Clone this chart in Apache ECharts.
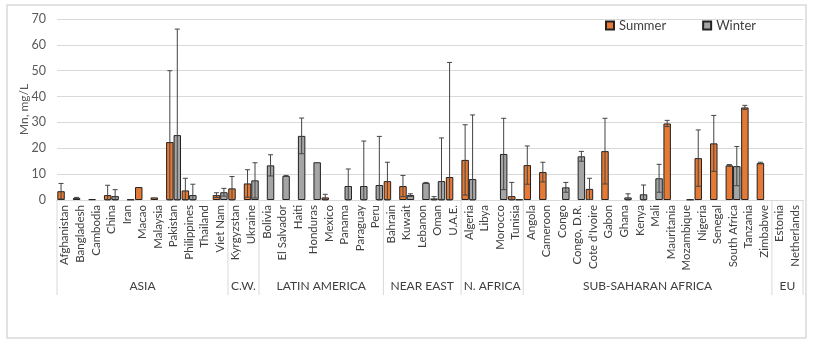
<!DOCTYPE html>
<html>
<head>
<meta charset="utf-8">
<script src="https://cdn.jsdelivr.net/npm/echarts@6/dist/echarts.min.js"></script>
<style>
  html, body { margin: 0; padding: 0; background: #fff; }
  #chart { width: 816px; height: 344px; }
</style>
</head>
<body>
<div id="chart"></div>
<script>
const countries = [
  'Afghanistan', 'Bangladesh', 'Cambodia', 'China', 'Iran', 'Macao', 'Malaysia', 'Pakistan', 'Philippines', 'Thailand', 'Viet Nam',
  'Kyrgyzstan', 'Ukraine',
  'Bolivia', 'El Salvador', 'Haiti', 'Honduras', 'Mexico', 'Panama', 'Paraguay', 'Peru',
  'Bahrain', 'Kuwait', 'Lebanon', 'Oman', 'U.A.E.',
  'Algeria', 'Libya', 'Morocco', 'Tunisia',
  'Angola', 'Cameroon', 'Congo', 'Congo, D.R.', "Cote d'Ivoire", 'Gabon', 'Ghana', 'Kenya', 'Mali', 'Mauritania', 'Mozambique', 'Nigeria', 'Senegal', 'South Africa', 'Tanzania', 'Zimbabwe',
  'Estonia', 'Netherlands'
]

// region groups: [first index, end index (exclusive), label]
const groups = [
  [0, 11, 'ASIA'],
  [11, 13, 'C.W.'],
  [13, 21, 'LATIN AMERICA'],
  [21, 26, 'NEAR EAST'],
  [26, 30, 'N. AFRICA'],
  [30, 46, 'SUB-SAHARAN AFRICA'],
  [46, 48, 'EU']
]

const summer = [
  3.4, 0.8, 0.3, 1.9, null, 5.0, 1.0, 22.4, 3.7, null, 1.9,
  4.5, 6.4,
  null, null, null, null, 1.0, null, null, null,
  7.3, 5.4, null, 0.6, 8.9,
  15.5, null, null, 1.5,
  13.5, 10.8, null, null, 4.3, 18.9, null, null, null, 29.6, null, 16.2, 21.9, 13.4, 35.8, 14.3,
  null, null
]
const summerSd = [
  3.0, 0.2, 0, 3.8, 0, 0, 0, 27.6, 4.7, 0, 0.9,
  4.6, 5.3,
  0, 0, 0, 0, 1.2, 0, 0, 0,
  7.3, 4.1, 0, 0.7, 44.3,
  13.6, 0, 0, 5.3,
  7.4, 3.8, 0, 0, 4.1, 12.7, 0, 0, 0, 1.2, 0, 10.9, 10.8, 0.3, 0.8, 0.3,
  0, 0
]

const winter = [
  null, null, null, 1.5, 0.2, null, null, 25.1, 1.9, null, 3.0,
  null, 7.6,
  13.4, 9.3, 24.8, 14.6, null, 5.4, 5.4, 5.8,
  null, 1.9, 6.6, 7.3, null,
  8.1, null, 17.8, 0.2,
  null, null, 4.9, 16.9, null, null, 1.0, 2.2, 8.4, null, 0.2, null, null, 13.1, null, null,
  null, null
]
const winterSd = [
  0, 0, 0, 2.5, 0, 0, 0, 41.0, 4.2, 0, 1.5,
  0, 6.8,
  4.1, 0.2, 6.9, 0, 0, 6.6, 17.4, 18.8,
  0, 0.5, 0.2, 16.7, 0,
  24.8, 0, 13.8, 0,
  0, 0, 1.9, 1.9, 0, 0, 1.4, 3.6, 5.4, 0, 0, 0, 0, 7.6, 0, 0,
  0, 0
]

const yTicks = [0, 10, 20, 30, 40, 50, 60, 70]

const FONT = 'Lato, "Liberation Sans", sans-serif'
const CAT_GAP = 0.04

function errData(vals, sds) {
  const out = []
  vals.forEach((v, i) => {
    if (v != null && sds[i] > 0) out.push([i, v, sds[i]])
  })
  return out
}

function errRender(side) {
  return function(params, api) {
    const i = api.value(0)
    const v = api.value(1)
    const sd = api.value(2)
    const band = api.size([1, 0])[0]
    const bw = band * (1 - CAT_GAP) / 2
    const cx = api.coord([i, 0])[0] + side * bw / 2
    const yTop = api.coord([i, v + sd])[1]
    const yBot = api.coord([i, Math.max(0, v - sd)])[1]
    const cap = 2.5
    const st = { stroke: '#444', lineWidth: 1 }
    return {
      type: 'group',
      children: [
        { type: 'line', shape: { x1: cx, y1: yTop, x2: cx, y2: yBot }, style: st },
        { type: 'line', shape: { x1: cx - cap, y1: yTop, x2: cx + cap, y2: yTop }, style: st },
        { type: 'line', shape: { x1: cx - cap, y1: yBot, x2: cx + cap, y2: yBot }, style: st }
      ]
    }
  }
}

const chart = echarts.init(document.getElementById('chart'))

const option = {
  backgroundColor: '#fff',
  animation: false,
  textStyle: { fontFamily: FONT },
  graphic: [
    {
      type: 'rect',
      shape: { x: 7, y: 5, width: 799, height: 333 },
      style: { fill: 'none', stroke: '#D9D9D9', lineWidth: 1.5 },
      z: -1
    }
  ],
  legend: {
    data: ['Summer', 'Winter'],
    left: 600,
    top: 14,
    itemWidth: 8,
    itemHeight: 8,
    itemGap: 36,
    icon: 'rect',
    textStyle: { fontSize: 13, color: '#404040', fontFamily: FONT }
  },
  grid: { left: 57, right: 13, top: 19, bottom: 144 },
  xAxis: [
    {
      type: 'category',
      data: countries,
      axisTick: { show: false },
      axisLine: { lineStyle: { color: '#D9D9D9', width: 1 } },
      axisLabel: { interval: 0, rotate: 90, fontSize: 11.5, color: '#404040', margin: 5, fontFamily: FONT }
    },
    {
      type: 'value',
      min: 0,
      max: countries.length,
      show: false
    }
  ],
  yAxis: {
    type: 'value',
    min: yTicks[0],
    max: yTicks[yTicks.length - 1],
    interval: 10,
    name: 'Mn, mg/L',
    nameLocation: 'middle',
    nameGap: 27,
    nameMoveOverlap: false,
    nameTextStyle: { fontSize: 12, color: '#595959', fontFamily: FONT },
    axisLine: { show: false },
    axisTick: { show: false },
    axisLabel: { fontSize: 12.5, color: '#595959', margin: 11, fontFamily: FONT },
    splitLine: { lineStyle: { color: '#D9D9D9', width: 1 } }
  },
  series: [
    {
      name: 'Summer',
      type: 'bar',
      data: summer,
      barGap: '0%',
      barCategoryGap: (CAT_GAP * 100) + '%',
      itemStyle: { color: '#E47A35', borderColor: '#222', borderWidth: 1 }
    },
    {
      name: 'Winter',
      type: 'bar',
      data: winter,
      itemStyle: { color: '#A5A5A5', borderColor: '#222', borderWidth: 1 }
    },
    {
      name: 'errS',
      type: 'custom',
      renderItem: errRender(-1),
      data: errData(summer, summerSd),
      encode: { x: 0, y: 1 },
      z: 5,
      silent: true
    },
    {
      name: 'errW',
      type: 'custom',
      renderItem: errRender(1),
      data: errData(winter, winterSd),
      encode: { x: 0, y: 1 },
      z: 5,
      silent: true
    },
    {
      name: 'groups',
      type: 'custom',
      xAxisIndex: 1,
      clip: false,
      silent: true,
      data: groups.map((g, k) => [g[0], g[1], k]),
      encode: { x: [0, 1] },
      renderItem: function(params, api) {
        const k = api.value(2)
        const g = groups[k]
        const x0 = api.coord([g[0], 0])[0]
        const x1 = api.coord([g[1], 0])[0]
        const y0 = api.coord([0, 0])[1]
        const st = { stroke: '#D9D9D9', lineWidth: 1 }
        const children = [
          { type: 'line', shape: { x1: x0, y1: y0, x2: x0, y2: y0 + 95 }, style: st },
          {
            type: 'text',
            style: {
              x: (x0 + x1) / 2, y: y0 + 86, text: g[2],
              align: 'center', verticalAlign: 'middle',
              fill: '#404040', font: '12px ' + FONT
            }
          }
        ]
        if (k === groups.length - 1) {
          children.push({ type: 'line', shape: { x1: x1, y1: y0, x2: x1, y2: y0 + 95 }, style: st })
        }
        return { type: 'group', children: children }
      }
    }
  ]
}

chart.setOption(option)
</script>
</body>
</html>
